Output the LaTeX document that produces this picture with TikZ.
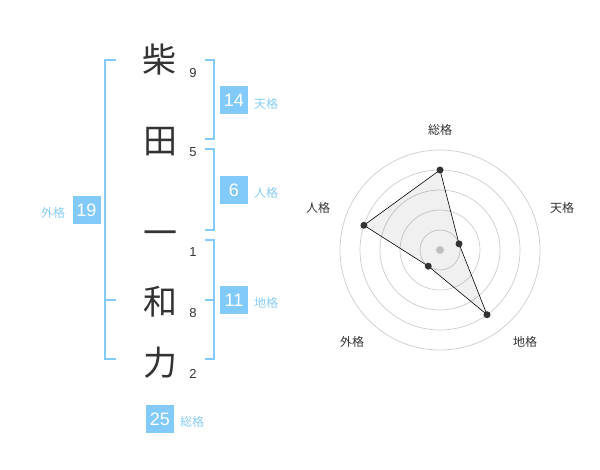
\documentclass[tikz,border=0pt]{standalone}
\usepackage{fontspec}
\setmainfont{Liberation Sans}
\newfontfamily\jp{Noto Sans CJK JP}
\definecolor{kblue}{HTML}{82CAFA}
\definecolor{klabel}{HTML}{88CCF6}
\definecolor{kdark}{HTML}{333333}
\definecolor{kring}{HTML}{CCCCCC}
\begin{document}
\begin{tikzpicture}[x=1pt,y=-1pt]
\tikzstyle{kanji}=[inner sep=0pt, text=kdark, font=\jp\fontsize{34}{34}\selectfont]
\tikzstyle{stroke}=[inner sep=0pt, text=kdark, font=\fontsize{13}{13}\selectfont]
\tikzstyle{kbox}=[fill=kblue, text=white, minimum size=28pt, inner sep=0pt, font=\fontsize{18}{18}\selectfont]
\tikzstyle{klab}=[inner sep=0pt, text=klabel, font=\jp\fontsize{12}{12}\selectfont]
\tikzstyle{bracket}=[draw=kblue, line width=1.5pt]
\tikzstyle{axis}=[inner sep=0pt, text=kdark, font=\jp\fontsize{12}{12}\selectfont]
\tikzstyle{dot}=[circle, fill=kdark, inner sep=0pt, minimum size=7pt]
\useasboundingbox (0,0) rectangle (600,470);

\node [kanji] (c1) at (159, 60) {柴};
\node [kanji] (c2) at (160, 142) {田};
\node [kanji] (c3) at (160, 238) {一};
\node [kanji] (c4) at (160, 302) {和};
\node [kanji] (c5) at (160, 363) {力};

\node [stroke] (n1) at (193, 73) {9};
\node [stroke] (n2) at (193, 152) {5};
\node [stroke] (n3) at (193, 252) {1};
\node [stroke] (n4) at (193, 313) {8};
\node [stroke] (n5) at (193, 374) {2};

\coordinate (ga) at (116, 60);
\coordinate (gb) at (116, 300);
\coordinate (gc) at (116, 359);
\draw [bracket] (ga) -- (105, 60) -- (105, 359) -- (gc);
\draw [bracket] (gb) -- (105, 300);

\coordinate (ta) at (205, 60);
\coordinate (tb) at (205, 139);
\draw [bracket] (ta) -- (214, 60) -- (214, 139) -- (tb);

\coordinate (ja) at (205, 149);
\coordinate (jb) at (205, 230);
\draw [bracket] (ja) -- (214, 149) -- (214, 230) -- (jb);

\coordinate (ca) at (205, 240);
\coordinate (cb) at (205, 300);
\coordinate (cc) at (205, 359);
\draw [bracket] (ca) -- (214, 240) -- (214, 359) -- (cc);
\draw [bracket] (cb) -- (214, 300);

\node [kbox] (b1) at (234, 100) {14};
\node [kbox] (b2) at (234, 190) {6};
\node [kbox] (b3) at (234, 300) {11};
\node [kbox] (b4) at (86.5, 210) {19};
\node [kbox] (b5) at (160, 419) {25};

\node [klab] (l1) at (266, 104) {天格};
\node [klab] (l2) at (266, 193) {人格};
\node [klab] (l3) at (266, 303) {地格};
\node [klab] (l4) at (53, 213) {外格};
\node [klab] (l5) at (192, 422) {総格};

\begin{scope}[shift={(440,250)}, yscale=-1]
\foreach \r in {20,40,60,80,100}
  \draw [kring, line width=0.7pt] (0,0) circle [radius=\r];
\fill [kring] (0,0) circle [radius=4];
\coordinate (v1) at (90:80);
\coordinate (v2) at (18:20);
\coordinate (v3) at (-54:80);
\coordinate (v4) at (-126:20);
\coordinate (v5) at (162:80);
\draw [black, line width=0.6pt, fill=black, fill opacity=0.06] (v1) -- (v2) -- (v3) -- (v4) -- (v5) -- cycle;
\node [dot] (d1) at (v1) {};
\node [dot] (d2) at (v2) {};
\node [dot] (d3) at (v3) {};
\node [dot] (d4) at (v4) {};
\node [dot] (d5) at (v5) {};
\end{scope}

\node [axis] (a1) at (440, 130) {総格};
\node [axis] (a2) at (562, 208) {天格};
\node [axis] (a3) at (525, 342) {地格};
\node [axis] (a4) at (352, 342) {外格};
\node [axis] (a5) at (318, 208) {人格};
\end{tikzpicture}
\end{document}
